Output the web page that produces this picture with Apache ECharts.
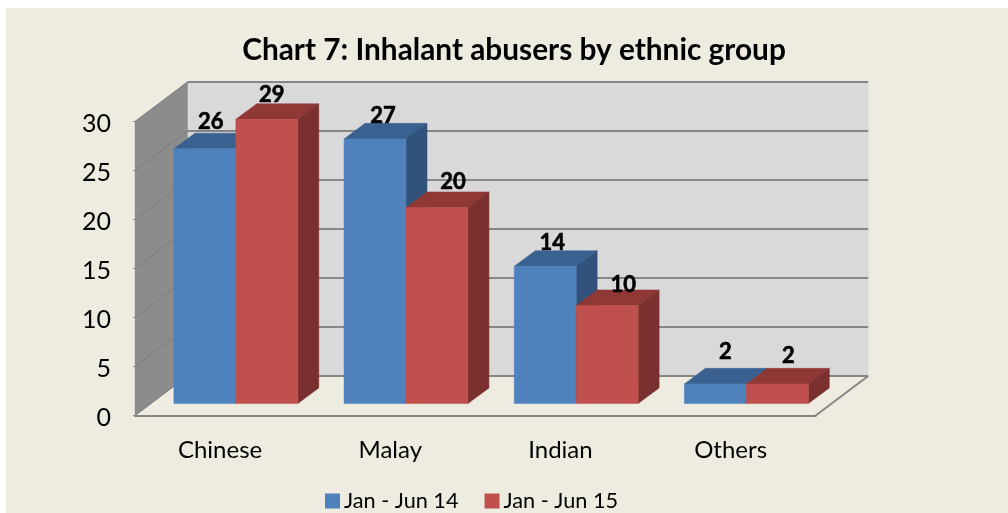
<!DOCTYPE html>
<html>
<head>
<meta charset="utf-8">
<style>html,body{margin:0;padding:0;background:#fff}#c{width:1008px;height:513px}</style>
<script src="https://cdn.jsdelivr.net/npm/echarts@6/dist/echarts.min.js"></script>
</head>
<body>
<div id="c"></div>
<script>
const categories = ['Chinese', 'Malay', 'Indian', 'Others'];
const seriesNames = ['Jan - Jun 14', 'Jan - Jun 15'];
const jan14 = [26, 27, 14, 2];
const jan15 = [29, 20, 10, 2];
const yTicks = [0, 5, 10, 15, 20, 25, 30];

// styling (pixels / colours)
const FONT = 'Lato';
const DX = 52.5, DY = -39.5;            // depth of the chart box
const BAR_DX = 21, BAR_DY = -15.6;      // depth of one bar
const BAR_BAND = 0.364;                 // bar width, share of a category
const faces = [
  { front: '#4F81BD', top: '#3A6190', side: '#31527A' },
  { front: '#C0504D', top: '#8F3836', side: '#7A302E' }
];
// hand placement of the data labels relative to each bar's top centre
const labelNudge = [
  [[6, -28], [8, -24], [7, -24], [10, -33]],
  [[5, -25], [16, -27], [16, -22], [11, -29]]
];

function poly(points, fill, stroke) {
  return { type: 'polygon', shape: { points }, style: { fill, stroke: stroke || fill, lineWidth: 0.5 } };
}

function renderGridLine(params, api) {
  const c = params.coordSys;
  const y = api.coord([0, api.value(0)])[1];
  const lineStyle = { stroke: '#868686', lineWidth: 2 };
  const sideStyle = { stroke: '#7C7C7C', lineWidth: 1 };
  return {
    type: 'group',
    children: [
      { type: 'line', shape: { x1: c.x + DX, y1: y + DY, x2: c.x + c.width + DX, y2: y + DY }, style: lineStyle },
      { type: 'line', shape: { x1: c.x, y1: y, x2: c.x + DX, y2: y + DY }, style: sideStyle }
    ]
  };
}

function renderWalls(params) {
  const c = params.coordSys;
  const l = c.x, r = c.x + c.width, t = c.y, b = c.y + c.height;
  return {
    type: 'group',
    children: [
      poly([[l + DX, t + DY], [r + DX, t + DY], [r + DX, b + DY], [l + DX, b + DY]], '#D9D9D9'),
      poly([[l, t], [l + DX, t + DY], [l + DX, b + DY], [l, b]], '#8C8C8C'),
      { type: 'line', shape: { x1: r, y1: b, x2: r + DX, y2: b + DY }, style: { stroke: '#868686', lineWidth: 2 } },
      { type: 'line', shape: { x1: l, y1: b, x2: l + DX, y2: b + DY }, style: { stroke: '#A8A8A8', lineWidth: 1 } }
    ]
  };
}

function barRenderer(seriesIndex) {
  return function (params, api) {
    const idx = api.value(0), val = api.value(1);
    const base = api.coord([idx, 0]);
    const top = api.coord([idx, val]);
    const w = api.size([1, 0])[0] * BAR_BAND;
    const ox = (DX - BAR_DX) / 2, oy = (DY - BAR_DY) / 2;
    const x0 = base[0] + ox - w + seriesIndex * w;
    const x1 = x0 + w;
    const y0 = base[1] + oy, y1 = top[1] + oy;
    const f = faces[seriesIndex];
    const n = labelNudge[seriesIndex][idx];
    return {
      type: 'group',
      children: [
        poly([[x0, y1], [x1, y1], [x1 + BAR_DX, y1 + BAR_DY], [x0 + BAR_DX, y1 + BAR_DY]], f.top),
        poly([[x1, y0], [x1, y1], [x1 + BAR_DX, y1 + BAR_DY], [x1 + BAR_DX, y0 + BAR_DY]], f.side),
        poly([[x0, y0], [x1, y0], [x1, y1], [x0, y1]], f.front),
        {
          type: 'text', z2: 50,
          style: {
            x: (x0 + x1) / 2 + n[0], y: y1 + n[1] + 1, text: String(val),
            fill: '#000', stroke: '#000', lineWidth: 0.6,
            fontFamily: FONT, fontWeight: 'bold', fontSize: 22, align: 'center', verticalAlign: 'middle'
          }
        }
      ]
    };
  };
}

const chart = echarts.init(document.getElementById('c'), null, { renderer: 'canvas' });
chart.setOption({
  animation: false,
  backgroundColor: '#FFFFFF',
  graphic: [{ type: 'rect', z: -10, shape: { x: 6, y: 8, width: 1002, height: 505 }, style: { fill: '#EEECE1' }, silent: true }],
  title: {
    text: 'Chart 7: Inhalant abusers by ethnic group',
    left: 509, top: 30, textAlign: 'center',
    textStyle: { fontFamily: FONT, fontWeight: 'bold', fontSize: 29.8, color: '#000' }
  },
  legend: {
    data: seriesNames, left: 320, top: 485, itemWidth: 15, itemHeight: 15, itemGap: 26,
    icon: 'rect',
    textStyle: { fontFamily: FONT, fontSize: 21.7, color: '#000', padding: [0, 0, 0, -1] }
  },
  grid: { left: 135, top: 121.5, width: 680.7, height: 294, containLabel: false },
  xAxis: {
    type: 'category', data: categories,
    axisLine: { show: true, lineStyle: { color: '#868686', width: 2 } },
    axisTick: { show: false },
    axisLabel: { fontFamily: FONT, fontSize: 24, color: '#000', margin: 23 }
  },
  yAxis: {
    type: 'value', min: 0, max: 30, interval: 5,
    axisLine: { show: false },
    axisTick: { show: true, length: 2, lineStyle: { color: '#868686', width: 1 } },
    splitLine: { show: false },
    axisLabel: {
      margin: 24,
      formatter: '{n|{value}}',
      rich: { n: { fontFamily: FONT, fontSize: 25, color: '#000', padding: [4, 0, 0, 0] } }
    }
  },
  series: [
    { type: 'custom', z: 1, silent: true, clip: false, coordinateSystem: 'cartesian2d', renderItem: renderWalls, data: [[0, 0]], encode: { x: 0, y: 1 } },
    { type: 'custom', z: 1.5, silent: true, clip: false, coordinateSystem: 'cartesian2d', renderItem: renderGridLine, data: yTicks.map(v => [v]), encode: { y: 0 } },
    { type: 'custom', z: 3, name: seriesNames[0], clip: false, itemStyle: { color: faces[0].front }, renderItem: barRenderer(0), data: jan14.map((v, i) => [i, v]), encode: { x: 0, y: 1 } },
    { type: 'custom', z: 4, name: seriesNames[1], clip: false, itemStyle: { color: faces[1].front }, renderItem: barRenderer(1), data: jan15.map((v, i) => [i, v]), encode: { x: 0, y: 1 } }
  ]
});
</script>
</body>
</html>
